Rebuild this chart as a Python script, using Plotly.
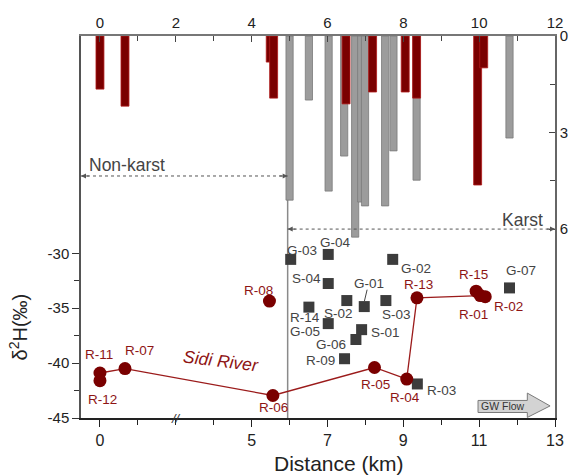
import plotly.graph_objects as go

# ---------------- data ----------------
# bottom axis is broken between 2 and 3 km
def broken(d):
    return d if d < 2 else d - 1

BOTTOM_TICKS_KM = [0, 5, 7, 9, 11, 13]
TOP_TICKS = [0, 2, 4, 6, 8, 10, 12]
LEFT_TICKS = [-45, -40, -35, -30]
RIGHT_TICKS = [0, 3, 6]

# river water samples
river_names = ['R-11', 'R-12', 'R-07', 'R-06', 'R-08', 'R-05', 'R-04', 'R-13', 'R-15', 'R-01', 'R-02']
river_km = [0.0, 0.0, 0.66, 5.56, 5.47, 8.24, 9.09, 9.36, 10.92, 11.03, 11.16]
river_d2h = [-40.9, -41.6, -40.5, -42.95, -34.35, -40.4, -41.45, -34.05, -33.45, -33.85, -33.95]
river_line = ['R-11', 'R-07', 'R-06', 'R-05', 'R-04', 'R-13', 'R-01']

# groundwater / spring samples
gw_names = ['G-03', 'G-04', 'S-04', 'G-01', 'G-02', 'R-14', 'S-02', 'S-03', 'G-05', 'S-01', 'G-06', 'R-09', 'R-03', 'G-07']
gw_km = [6.03, 7.02, 7.02, 7.97, 8.72, 6.51, 7.51, 8.54, 7.02, 7.90, 7.75, 7.45, 9.37, 11.8]
gw_d2h = [-30.55, -30.1, -32.75, -34.85, -30.55, -34.9, -34.3, -34.3, -36.4, -36.95, -37.85, -39.6, -41.9, -33.15]

# bars hanging from the top axis (top-axis position, depth on right axis)
red_bar_x = [0.0, 0.66, 4.49, 4.58, 6.49, 7.19, 8.05, 8.35, 9.96, 10.12]
red_bar_depth = [1.65, 2.18, 0.81, 1.93, 2.11, 1.74, 1.74, 1.93, 4.63, 0.99]
gray_bar_x = [5.0, 5.51, 6.03, 6.44, 6.73, 6.89, 6.99, 7.52, 7.74, 8.35, 10.8]
gray_bar_depth = [5.1, 1.99, 4.82, 3.73, 6.25, 5.16, 5.28, 5.28, 3.57, 4.48, 3.17]

# label offsets (pixels): dx right, dy up
label_offset = {
    'R-11': (-1, 18), 'R-12': (3, -19), 'R-07': (15, 18), 'R-06': (1, -12), 'R-08': (-11, 11),
    'R-05': (1, -17), 'R-04': (-2, -18), 'R-13': (2, 13), 'R-15': (-3, 17), 'R-01': (-7, -19),
    'R-02': (23, -10),
    'G-03': (11, 9), 'G-04': (7, 12), 'S-04': (-22, 5), 'G-01': (5, 23), 'G-02': (23, -9),
    'R-14': (-4, -10), 'S-02': (-8, -13), 'S-03': (11, -14), 'G-05': (-23, -8), 'S-01': (24, -3),
    'G-06': (-25, -5), 'R-09': (-24, -2), 'R-03': (24, -7), 'G-07': (11, 17),
}

RED = '#7a0000'
RED_TXT = '#8e1414'
GRAY_TXT = '#444444'
FONT = 'Arial, Liberation Sans, sans-serif'

fig = go.Figure()

# bars
fig.add_trace(go.Bar(x=gray_bar_x, y=gray_bar_depth, width=0.19, base=0,
                     marker=dict(color='#9c9c9c', line=dict(color='#7a7a7a', width=0.8)),
                     xaxis='x2', yaxis='y2', showlegend=False))
fig.add_trace(go.Bar(x=red_bar_x, y=red_bar_depth, width=0.21, base=0,
                     marker=dict(color=RED, line=dict(color='#b01a1a', width=0.8)),
                     xaxis='x2', yaxis='y2', showlegend=False))

# river line
idx = {n: i for i, n in enumerate(river_names)}
fig.add_trace(go.Scatter(x=[broken(river_km[idx[n]]) for n in river_line],
                         y=[river_d2h[idx[n]] for n in river_line],
                         mode='lines', line=dict(color='#9b1b1b', width=1.3),
                         showlegend=False, hoverinfo='skip'))

# groundwater squares
fig.add_trace(go.Scatter(x=[broken(d) for d in gw_km], y=gw_d2h, mode='markers',
                         marker=dict(symbol='square', size=11, color='#3c3c3c'),
                         showlegend=False))
# river circles
fig.add_trace(go.Scatter(x=[broken(d) for d in river_km], y=river_d2h, mode='markers',
                         marker=dict(symbol='circle', size=13, color=RED),
                         showlegend=False))

annotations = []
for names, kms, vals, col in [(river_names, river_km, river_d2h, RED_TXT),
                              (gw_names, gw_km, gw_d2h, GRAY_TXT)]:
    for n, d, v in zip(names, kms, vals):
        dx, dy = label_offset[n]
        annotations.append(dict(x=broken(d), y=v, xref='x', yref='y', text=n, showarrow=False,
                                xshift=dx, yshift=dy, font=dict(size=13.5, color=col, family=FONT)))

# texts
annotations += [
    dict(x=3.2, y=-39.85, xref='x', yref='y', text='<i>Sidi River</i>', showarrow=False,
         textangle=7, font=dict(size=17.5, color=RED_TXT, family=FONT)),
    dict(x=0.71, y=4.01, xref='x2', yref='y2', text='Non-karst', showarrow=False,
         font=dict(size=17.5, color=GRAY_TXT, family=FONT)),
    dict(x=11.13, y=5.72, xref='x2', yref='y2', text='Karst', showarrow=False,
         font=dict(size=17.5, color=GRAY_TXT, family=FONT)),
    dict(x=10.63, y=-43.95, xref='x', yref='y', text='GW Flow', showarrow=False,
         font=dict(size=10.5, color='#333333', family=FONT)),
    dict(x=2.0, y=-45, xref='x', yref='y', text='<i>//</i>', showarrow=False,
         font=dict(size=13, color='#333333', family=FONT)),
    dict(x=-0.5, y=-36.75, xref='x', yref='y', text='δ<sup>2</sup>H(‰)', showarrow=False,
         textangle=-90, xshift=-63, font=dict(size=20, color='#222222', family=FONT)),
    dict(x=0.545, y=0, xref='paper', yref='paper', text='Distance (km)', showarrow=False,
         yanchor='middle', xanchor='center', yshift=-45,
         font=dict(size=21, color='#222222', family=FONT)),
]
# dashed-arrow heads
for x0, x1, yy in [(-0.5, 4.95, 4.35), (4.95, 12.0, 6.0)]:
    for tip, tail in [(x0, x0 + 0.25), (x1, x1 - 0.25)]:
        annotations.append(dict(x=tip, y=yy, ax=tail, ay=yy, xref='x2', yref='y2',
                                axref='x2', ayref='y2', text='', showarrow=True,
                                arrowhead=2, arrowsize=1, arrowwidth=1, arrowcolor='#555555'))

shapes = [
    # karst boundary
    dict(type='line', xref='x', yref='paper', x0=4.95, x1=4.95, y0=0, y1=1,
         line=dict(color='#8a8a8a', width=1.5), layer='below'),
    dict(type='line', xref='x2', yref='y2', x0=-0.5, x1=4.95, y0=4.35, y1=4.35,
         line=dict(color='#555555', width=1, dash='dot')),
    dict(type='line', xref='x2', yref='y2', x0=4.95, x1=12.0, y0=6.0, y1=6.0,
         line=dict(color='#555555', width=1, dash='dot')),
    # G-01 leader
    dict(type='line', xref='x', yref='y', x0=7.045, y0=-33.31, x1=6.974, y1=-34.35,
         line=dict(color='#444444', width=1)),
    # GW flow arrow
    dict(type='path', xref='x', yref='y',
         path='M 9.97,-43.4 L 11.27,-43.4 L 11.27,-42.73 L 11.87,-43.9 L 11.27,-44.95 '
              'L 11.27,-44.5 L 9.97,-44.5 Z',
         fillcolor='#d3d3d3', line=dict(color='#7a7a7a', width=1)),
]

tickfont = dict(size=15, color='#222222', family=FONT)
fig.update_layout(
    width=572, height=475,
    margin=dict(l=81, r=17, t=36, b=57, autoexpand=False),
    paper_bgcolor='white', plot_bgcolor='white',
    barmode='overlay', showlegend=False,
    annotations=annotations, shapes=shapes,
    xaxis=dict(range=[-0.5, 12], tickmode='array', automargin=False,
               tickvals=[broken(v) for v in BOTTOM_TICKS_KM],
               ticktext=[str(v) for v in BOTTOM_TICKS_KM],
               ticks='outside', ticklen=7, tickcolor='#222', showline=True,
               linecolor='#222222', linewidth=1.5, showgrid=False, zeroline=False,
               tickfont=dict(size=16, color='#222222', family=FONT),
               minor=dict(tickmode='linear', tick0=0, dtick=1, ticks='outside',
                          ticklen=5, tickcolor='#222')),
    xaxis2=dict(range=[-0.5, 12], overlaying='x', side='top', anchor='y2', automargin=False,
                tickmode='array', tickvals=TOP_TICKS, ticks='inside', ticklen=6,
                tickcolor='#444', showline=True, linecolor='#777777', linewidth=1.5,
                showgrid=False, zeroline=False, tickfont=tickfont,
                minor=dict(tickmode='linear', tick0=0, dtick=1, ticks='inside',
                           ticklen=5, tickcolor='#444')),
    yaxis=dict(range=[-45, -10.2], tickmode='array', tickvals=LEFT_TICKS,
               ticktext=[str(v) for v in LEFT_TICKS], automargin=False,
               ticks='outside', ticklen=7, tickcolor='#333', showline=True,
               linecolor='#555555', linewidth=1.5, showgrid=False, zeroline=False,
               tickfont=tickfont,
               minor=dict(tickmode='array', tickvals=[-42.5, -37.5, -32.5],
                          ticks='outside', ticklen=5, tickcolor='#333')),
    yaxis2=dict(range=[11.87, 0], overlaying='y', side='right', anchor='x', automargin=False,
                tickmode='array', tickvals=RIGHT_TICKS, ticks='inside', ticklen=6,
                tickcolor='#444', showline=True, linecolor='#666666', linewidth=1.5,
                showgrid=False, zeroline=False, tickfont=tickfont,
                minor=dict(tickmode='array', tickvals=[1.5, 4.5], ticks='inside',
                           ticklen=5, tickcolor='#444')),
)

# remove the browser's default 8px body margin so the figure sits at the page origin
fig.write_html('out.html', config={'displayModeBar': False},
               post_script="document.body.style.margin='0px';document.body.style.overflow='hidden';")
